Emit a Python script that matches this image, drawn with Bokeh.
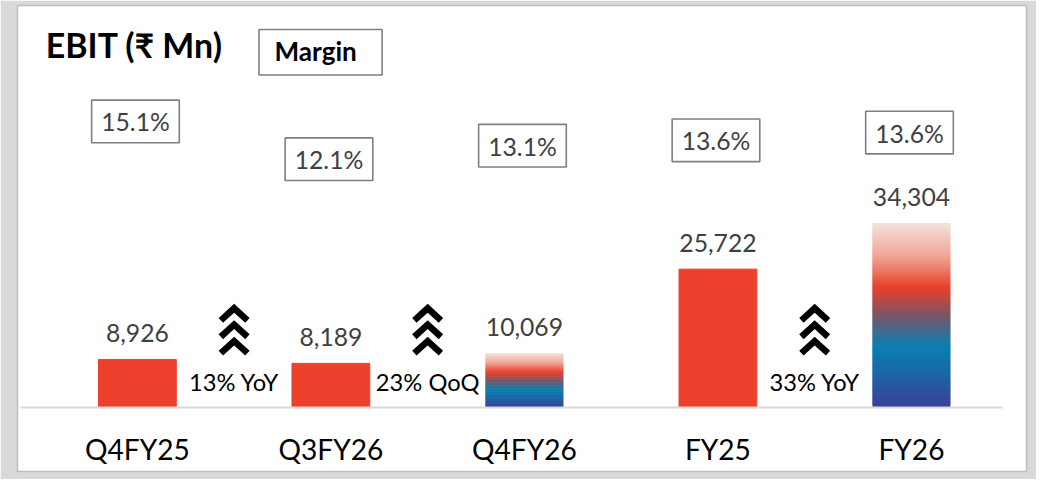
from bokeh.plotting import figure
from bokeh.models import Range1d, FixedTicker
from bokeh.core.properties import value
from bokeh.embed import file_html
from bokeh.resources import INLINE

# ---------------- data ----------------
categories = ["Q4FY25", "Q3FY26", "Q4FY26", "FY25", "FY26"]
ebit = [8926, 8189, 10069, 25722, 34304]
margin_pct = [15.1, 12.1, 13.1, 13.6, 13.6]
is_gradient = [False, False, True, False, True]
growth_text = ["13% YoY", "23% QoQ", "33% YoY"]
growth_between = [0.5, 1.5, 3.5]

# ---------------- layout (reference pixel space) ----------------
W, H = 1036, 479
SX, SY = W / 1052, H / 495       # reference -> figure pixel scale
PX0, PITCH = 139.0, 196.5        # centre of first bar, distance between bars
BASE, UPP = 420.5, 180.0         # baseline pixel row, EBIT units per pixel
def rx(px):
    return (px - PX0) / PITCH
def ry(py):
    return (BASE - py) * UPP

ML, MR, MT, MB = 17, 10, 5, 8
def fs(px):                      # font size in figure pixels
    return f"{px * SY:.1f}px"
def lift(size_px):               # correction for the rendered baseline
    return 0.36 * size_px

margin_box_row = [125, 164, 150, 144.5, 136.5]   # box centre rows
FONT = "Lato"
RED = "#EC412C"
GRAD_STOPS = [(0.00, (244, 226, 220)), (0.18, (240, 165, 150)), (0.35, (233, 64, 42)),
              (0.50, (122, 85, 102)), (0.67, (10, 127, 177)), (0.85, (31, 96, 164)),
              (1.00, (59, 62, 150))]

def grad(t):
    for (t0, c0), (t1, c1) in zip(GRAD_STOPS[:-1], GRAD_STOPS[1:]):
        if t0 <= t <= t1:
            f = (t - t0) / (t1 - t0)
            c = [round(a + (b - a) * f) for a, b in zip(c0, c1)]
            return "#%02x%02x%02x" % tuple(c)
    return "#%02x%02x%02x" % GRAD_STOPS[-1][1]

p = figure(width=W, height=H,
           x_range=Range1d(rx(ML / SX), rx((W - MR) / SX)),
           y_range=Range1d(ry((H - MB) / SY), ry(MT / SY)),
           output_backend="svg", toolbar_location=None, y_axis_location=None,
           min_border_left=ML, min_border_right=MR, min_border_top=MT, min_border_bottom=MB,
           border_fill_color="#d9d9d9", background_fill_color="white",
           outline_line_color="#bdbdbd", outline_line_width=1.5)
p.grid.visible = False

# axis at zero with category labels
ax = p.xaxis[0]
ax.fixed_location = 0
ax.ticker = FixedTicker(ticks=list(range(len(categories))))
ax.major_label_overrides = {i: c for i, c in enumerate(categories)}
ax.bounds = (rx(20), rx(1017))
ax.axis_line_color = "#d9d9d9"
ax.axis_line_width = 2
ax.major_tick_line_color = None
ax.minor_tick_line_color = None
ax.major_label_text_font = FONT
ax.major_label_text_font_size = fs(29)
ax.major_label_text_color = "black"
ax.major_label_standoff = 19

BAR_W = 79 / PITCH
idx = list(range(len(categories)))

# solid bars
solid_x = [i for i in idx if not is_gradient[i]]
solid_v = [ebit[i] for i in idx if not is_gradient[i]]
p.vbar(x=solid_x, top=solid_v, width=BAR_W, color=RED)

# gradient bars (sliced, each slice overlapping the next to avoid seams)
N = 90
gl, gr, gb, gt, gc = [], [], [], [], []
for i in idx:
    if not is_gradient[i]:
        continue
    v = ebit[i]
    for k in range(N):
        gl.append(i - BAR_W / 2)
        gr.append(i + BAR_W / 2)
        gb.append(v * k / N)
        gt.append(v * min(k + 2, N) / N)
        gc.append(grad(1 - (k + 0.5) / N))
p.quad(left=gl, right=gr, bottom=gb, top=gt, fill_color=gc, line_color=None)

# value labels
p.text(x=idx, y=[v + (18 + lift(25)) * UPP for v in ebit], text=[f"{v:,}" for v in ebit],
       text_align="center", text_baseline="alphabetic", text_font=value(FONT),
       text_font_size=fs(25.5), text_color="#404040")

# margin boxes
p.rect(x=[i - 0.01 for i in idx], y=[ry(r) for r in margin_box_row], width=89 * SX,
       height=44 * SY, width_units="screen", height_units="screen", fill_color="white",
       line_color="#7f7f7f", line_width=1.6)
p.text(x=[i - 0.01 for i in idx], y=[ry(r + 9.5 - lift(25)) for r in margin_box_row],
       text=[f"{m:.1f}%" for m in margin_pct], text_align="center",
       text_baseline="alphabetic", text_font=value(FONT), text_font_size=fs(25.5),
       text_color="#404040")

# title and "Margin" header
p.text(x=[rx(46)], y=[ry(59 - lift(35))], text=["EBIT (₹ Mn)"], text_align="left",
       text_baseline="alphabetic", text_font=value(FONT), text_font_style="bold",
       text_font_size=fs(35), text_color="black")
p.rect(x=[rx(325)], y=[ry(53.5)], width=125 * SX, height=47 * SY, width_units="screen",
       height_units="screen", fill_color="white", line_color="#7f7f7f", line_width=1.6)
p.text(x=[rx(320)], y=[ry(62 - lift(27))], text=["Margin"], text_align="center",
       text_baseline="alphabetic", text_font=value(FONT), text_font_style="bold",
       text_font_size=fs(27), text_color="black")

# growth chevrons and labels
cxs, cys = [], []
for g in growth_between:
    for j in range(3):
        top = 318 + 17 * j
        cxs.append([g - 13.5 / PITCH, g, g + 13.5 / PITCH])
        cys.append([ry(top + 12.5), ry(top), ry(top + 12.5)])
p.multi_line(xs=cxs, ys=cys, line_color="black", line_width=6.5, line_join="miter")
p.text(x=growth_between, y=[ry(403 - lift(24))] * len(growth_between), text=growth_text,
       text_align="center", text_baseline="alphabetic", text_font=value(FONT),
       text_font_size=fs(24.5), text_color="black")

open("out.html", "w").write(file_html(p, INLINE))
